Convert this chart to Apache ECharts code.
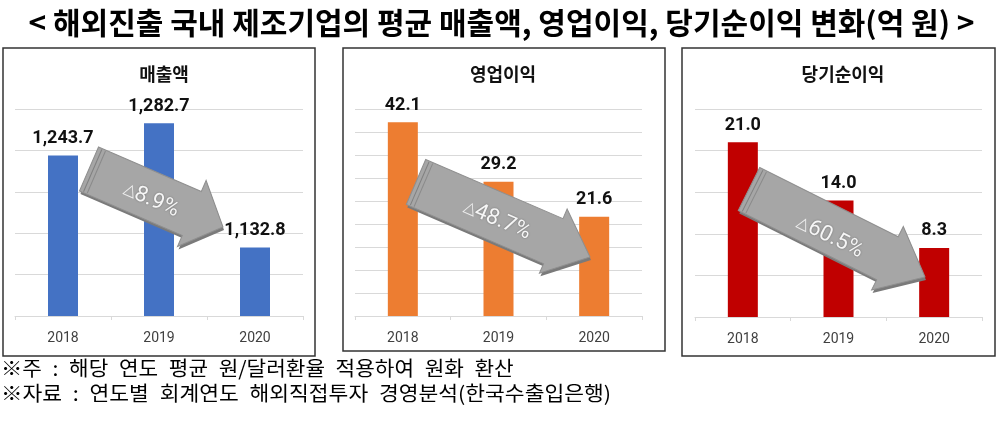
<!DOCTYPE html>
<html>
<head>
<meta charset="utf-8">
<style>
  html, body { margin: 0; padding: 0; background: #fff; }
  #chart { width: 1003px; height: 422px; }
</style>
<script src="https://cdn.jsdelivr.net/npm/echarts@6/dist/echarts.min.js"></script>
</head>
<body>
<div id="chart"></div>
<script>
// 데이터
var YEARS = ['2018', '2019', '2020'];
var SALES = [1243.7, 1282.7, 1132.8];
var OP_PROFIT = [42.1, 29.2, 21.6];
var NET_PROFIT = [21.0, 14.0, 8.3];
var PANEL_TITLES = ['매출액', '영업이익', '당기순이익'];
var CHANGES = ['8.9%', '48.7%', '60.5%'];

var NUM_FONT = '"Roboto", sans-serif';
var KR_FONT = '"Noto Sans CJK KR", sans-serif';
var EN = '\u2002';

function fmt(v) {
	return v.toLocaleString('en-US', { minimumFractionDigits: 1, maximumFractionDigits: 1 });
}

// 회색 화살표 (장식)
function arrow(x0, y0, x1, y1, w, hw, hl) {
	var dx = x1 - x0, dy = y1 - y0;
	var L = Math.sqrt(dx * dx + dy * dy);
	var rot = -Math.atan2(dy, dx);
	var pts = [[0, -w / 2], [L - hl, -w / 2], [L - hl, -hw / 2], [L, 0], [L - hl, hw / 2], [L - hl, w / 2], [0, w / 2]];
	return [
		{ type: 'polygon', x: x0 + 1, y: y0 + 3, rotation: rot, shape: { points: pts }, style: { fill: '#7a7a7a' }, z: 20 },
		{ type: 'polygon', x: x0, y: y0, rotation: rot, shape: { points: pts }, style: { fill: '#a6a6a6', stroke: '#8f8f8f', lineWidth: 1 }, z: 21 },
		{ type: 'line', x: x0, y: y0, rotation: rot, shape: { x1: 4, y1: -w / 2 + 1, x2: 4, y2: w / 2 - 1 }, style: { stroke: '#808080', lineWidth: 1 }, z: 22 },
		{ type: 'line', x: x0, y: y0, rotation: rot, shape: { x1: 8, y1: -w / 2 + 1, x2: 8, y2: w / 2 - 1 }, style: { stroke: '#8a8a8a', lineWidth: 1 }, z: 22 }
	];
}

function arrowText(txt, x, y, deg) {
	return {
		type: 'text', x: x, y: y, rotation: -deg * Math.PI / 180, z: 23,
		style: {
			text: '{a|△}{b|' + txt + '}', align: 'center', verticalAlign: 'middle',
			rich: {
				a: { fontSize: 16, fontFamily: NUM_FONT, fill: '#eeeeee' },
				b: { fontSize: 22, fontFamily: NUM_FONT, fill: '#f6f6f6', textShadowColor: 'rgba(0,0,0,0.35)', textShadowBlur: 2 }
			}
		}
	};
}

var panels = [
	{ left: 15, right: 700, bottom: 106, color: '#4472c4', data: SALES, min: 1050, max: 1300, interval: 50, cx: 159 },
	{ left: 355, right: 361, bottom: 106, color: '#ed7d31', data: OP_PROFIT, min: 0, max: 45, interval: 5, cx: 498 },
	{ left: 695, right: 21, bottom: 105, color: '#c00000', data: NET_PROFIT, min: 0, max: 25, interval: 5, cx: 838 }
];

var grids = [], xAxes = [], yAxes = [], series = [], titles = [];

titles.push({
	text: '< 해외진출 국내 제조기업의 평균 매출액, 영업이익, 당기순이익 변화(억 원) >',
	left: 'center', top: 3,
	textStyle: { fontFamily: KR_FONT, fontSize: 30, fontWeight: 'bold', color: '#000' }
});

panels.forEach(function(p, i) {
	grids.push({ left: p.left, right: p.right, top: 109, bottom: p.bottom });
	xAxes.push({
		type: 'category', gridIndex: i, data: YEARS,
		axisLine: { lineStyle: { color: '#d9d9d9' } },
		axisTick: { show: true, length: 4, lineStyle: { color: '#d9d9d9' } },
		axisLabel: { margin: 15, fontSize: 14, color: '#404040', fontFamily: NUM_FONT }
	});
	yAxes.push({
		type: 'value', gridIndex: i, min: p.min, max: p.max, interval: p.interval,
		axisLabel: { show: false }, axisLine: { show: false }, axisTick: { show: false },
		splitLine: { lineStyle: { color: '#d9d9d9' } }
	});
	series.push({
		type: 'bar', xAxisIndex: i, yAxisIndex: i, data: p.data, barWidth: 30,
		itemStyle: { color: p.color },
		label: {
			show: true, position: 'top', distance: 8,
			formatter: function(d) { return fmt(d.value); },
			fontFamily: NUM_FONT, fontSize: 18, fontWeight: 'bold', color: '#111'
		}
	});
	titles.push({
		text: PANEL_TITLES[i], left: p.cx, top: 60, textAlign: 'center',
		textStyle: { fontFamily: KR_FONT, fontSize: 18, fontWeight: 'bold', color: '#111' }
	});
});

var NOTE_1 = ['※주', ':', '해당', '연도', '평균', '원/달러환율', '적용하여', '원화', '환산'].join(EN);
var NOTE_2 = ['※자료', ':', '연도별', '회계연도', '해외직접투자', '경영분석(한국수출입은행)'].join(EN);

var graphics = [
	{ type: 'rect', shape: { x: 3, y: 48, width: 312, height: 308 }, style: { fill: 'none', stroke: '#333', lineWidth: 1.5 }, z: 1 },
	{ type: 'rect', shape: { x: 343, y: 48, width: 322, height: 303 }, style: { fill: 'none', stroke: '#333', lineWidth: 1.5 }, z: 1 },
	{ type: 'rect', shape: { x: 682, y: 48, width: 313, height: 308 }, style: { fill: 'none', stroke: '#333', lineWidth: 1.5 }, z: 1 },
	{ type: 'text', x: 1, y: 358, scaleX: 1.065, style: { text: NOTE_1, font: '20px ' + KR_FONT, fill: '#000' } },
	{ type: 'text', x: 1, y: 383, scaleX: 1.075, style: { text: NOTE_2, font: '20px ' + KR_FONT, fill: '#000' } }
];
graphics = graphics
	.concat(arrow(89, 169, 223, 227, 48, 72, 34))
	.concat(arrow(416, 182, 590, 257, 49, 70, 40))
	.concat(arrow(749, 189, 925, 277, 48, 71, 42))
	.concat([
		arrowText(CHANGES[0], 151, 200, 23.4),
		arrowText(CHANGES[1], 497, 220, 23.2),
		arrowText(CHANGES[2], 830, 237, 26.5)
	]);

var myChart = echarts.init(document.getElementById('chart'));
myChart.setOption({
	animation: false,
	backgroundColor: '#fff',
	title: titles,
	grid: grids,
	xAxis: xAxes,
	yAxis: yAxes,
	series: series,
	graphic: graphics
});
</script>
</body>
</html>
